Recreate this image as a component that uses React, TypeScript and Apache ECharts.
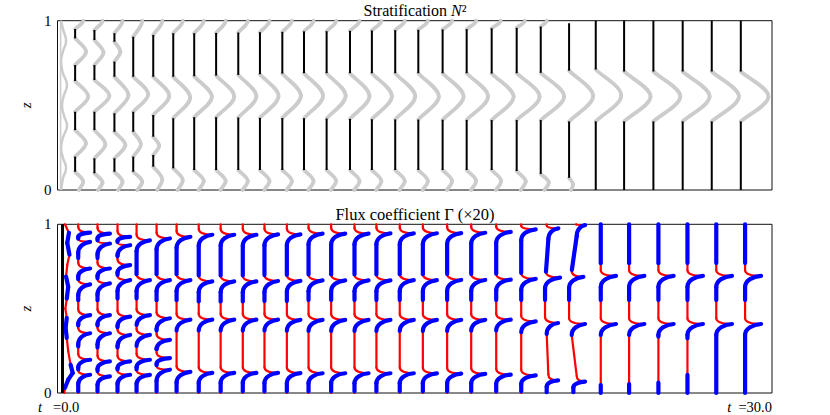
import React, { useEffect, useRef } from 'react';
import * as echarts from 'echarts';

// ---------- data ----------
// x position (time axis, 0..30) of each profile column
const colT = [0.74, 1.55, 2.39, 3.18, 4.02, 4.86, 5.74, 6.66, 7.59, 8.5, 9.44, 10.35, 11.3, 12.28, 13.2, 14.18, 15.15, 16.17, 17.18, 18.23, 19.28, 20.29, 21.48, 22.6, 23.79, 25.02, 26.25, 27.47, 28.69];

// Stratification panel: mixed layers (black), pairs of [zTop, zBottom]
const n2Layers: number[][] = [
  [0.951, 0.896, 0.738, 0.644, 0.462, 0.354, 0.197, 0.108],
  [0.945, 0.886, 0.738, 0.65, 0.462, 0.354, 0.187, 0.099],
  [0.926, 0.876, 0.758, 0.669, 0.453, 0.344, 0.187, 0.108],
  [0.905, 0.669, 0.462, 0.344, 0.197, 0.108],
  [0.916, 0.669, 0.443, 0.315, 0.207, 0.138],
  [0.926, 0.669, 0.424, 0.128],
  [0.926, 0.672, 0.43, 0.118],
  [0.928, 0.676, 0.43, 0.118],
  [0.93, 0.68, 0.428, 0.118],
  [0.932, 0.684, 0.426, 0.118],
  [0.934, 0.688, 0.425, 0.118],
  [0.937, 0.69, 0.424, 0.118],
  [0.938, 0.69, 0.422, 0.118],
  [0.94, 0.69, 0.42, 0.118],
  [0.942, 0.69, 0.418, 0.118],
  [0.944, 0.69, 0.417, 0.118],
  [0.946, 0.69, 0.416, 0.118],
  [0.948, 0.69, 0.415, 0.118],
  [0.95, 0.69, 0.414, 0.118],
  [0.955, 0.688, 0.413, 0.118],
  [0.958, 0.69, 0.413, 0.112],
  [0.965, 0.692, 0.413, 0.095],
  [0.985, 0.705, 0.405, 0.072],
  [1, 0.712, 0.405, 0],
  [1, 0.7, 0.405, 0],
  [1, 0.7, 0.405, 0],
  [1, 0.7, 0.405, 0],
  [1, 0.7, 0.405, 0],
  [1, 0.7, 0.405, 0],
];
// N^2 peak amplitudes (grey): [top boundary, interfaces..., bottom boundary]
const n2Amp: number[][] = [
  [0.34, 0.46, 0.55, 0.46, 0.34],
  [0.34, 0.38, 0.63, 0.46, 0.34],
  [0.34, 0.25, 0.59, 0.46, 0.34],
  [0.38, 0.63, 0.32, 0.38],
  [0.38, 0.67, 0.25, 0.38],
  [0.4, 0.71, 0.4],
  [0.4, 0.74, 0.4],
  [0.4, 0.76, 0.4],
  [0.4, 0.76, 0.4],
  [0.4, 0.78, 0.4],
  [0.4, 0.78, 0.4],
  [0.4, 0.8, 0.4],
  [0.4, 0.8, 0.4],
  [0.4, 0.82, 0.4],
  [0.4, 0.84, 0.4],
  [0.4, 0.84, 0.4],
  [0.4, 0.86, 0.4],
  [0.4, 0.88, 0.4],
  [0.4, 0.9, 0.4],
  [0.38, 0.92, 0.4],
  [0.34, 0.96, 0.38],
  [0.25, 0.98, 0.34],
  [0, 1.01, 0.17],
  [0, 1.07, 0],
  [0, 1.11, 0],
  [0, 1.13, 0],
  [0, 1.13, 0],
  [0, 1.14, 0],
  [0, 1.16, 0],
];
// initial (t = 0) stratification profile
const n2InitZ = [1, 0.95, 0.88, 0.82, 0.76, 0.69, 0.62, 0.56, 0.5, 0.44, 0.38, 0.31, 0.25, 0.19, 0.13, 0.07, 0];
const n2InitT = [0.15, 0.23, 0.36, 0.23, 0.15, 0.23, 0.4, 0.27, 0.19, 0.27, 0.4, 0.23, 0.15, 0.23, 0.36, 0.23, 0.15];
const n2InitLineT = 0.13;

// Flux coefficient panel: spike (tip) heights z, tip offsets, baselines, colour stops
const fluxTipZ: number[][] = [
  [0.951, 0.896, 0.738, 0.644, 0.462, 0.354, 0.197, 0.108],
  [0.945, 0.886, 0.738, 0.65, 0.462, 0.354, 0.187, 0.099],
  [0.926, 0.876, 0.758, 0.669, 0.453, 0.344, 0.187, 0.108],
  [0.905, 0.669, 0.462, 0.344, 0.197, 0.108],
  [0.916, 0.669, 0.443, 0.315, 0.207, 0.138],
  [0.926, 0.669, 0.435, 0.125],
  [0.938, 0.662, 0.435, 0.119],
  [0.938, 0.662, 0.435, 0.119],
  [0.938, 0.662, 0.435, 0.119],
  [0.94, 0.664, 0.435, 0.119],
  [0.94, 0.665, 0.434, 0.118],
  [0.945, 0.668, 0.433, 0.117],
  [0.945, 0.668, 0.433, 0.117],
  [0.945, 0.668, 0.433, 0.117],
  [0.946, 0.668, 0.433, 0.117],
  [0.946, 0.669, 0.433, 0.117],
  [0.947, 0.669, 0.433, 0.116],
  [0.948, 0.67, 0.433, 0.115],
  [0.95, 0.67, 0.434, 0.113],
  [0.955, 0.672, 0.435, 0.109],
  [0.97, 0.676, 0.425, 0.105],
  [0.976, 0.684, 0.415, 0.075],
  [0.995, 0.688, 0.409, 0.067],
  [0.694, 0.409],
  [0.694, 0.409],
  [0.694, 0.409],
  [0.694, 0.409],
  [0.694, 0.409],
  [0.694, 0.409],
];
const fluxTipX: number[][] = [
  [0.63, 0.63, 0.63, 0.63, 0.63, 0.63, 0.63, 0.63],
  [0.65, 0.65, 0.65, 0.65, 0.65, 0.65, 0.65, 0.65],
  [0.66, 0.66, 0.66, 0.66, 0.66, 0.66, 0.66, 0.66],
  [0.7, 0.7, 0.7, 0.7, 0.7, 0.7],
  [0.7, 0.7, 0.7, 0.7, 0.7, 0.7],
  [0.72, 0.72, 0.72, 0.72],
  [0.76, 0.76, 0.76, 0.76],
  [0.76, 0.76, 0.76, 0.76],
  [0.76, 0.76, 0.76, 0.76],
  [0.76, 0.76, 0.76, 0.76],
  [0.76, 0.76, 0.76, 0.76],
  [0.78, 0.78, 0.78, 0.78],
  [0.78, 0.78, 0.78, 0.78],
  [0.78, 0.78, 0.78, 0.78],
  [0.78, 0.78, 0.78, 0.78],
  [0.78, 0.78, 0.78, 0.78],
  [0.78, 0.78, 0.78, 0.78],
  [0.78, 0.78, 0.78, 0.78],
  [0.78, 0.78, 0.78, 0.78],
  [0.8, 0.8, 0.8, 0.8],
  [0.8, 0.8, 0.8, 0.8],
  [0.74, 0.81, 0.73, 0.73],
  [0.67, 0.6, 0.67, 0.67],
  [0.85, 0.85],
  [0.85, 0.85],
  [0.85, 0.85],
  [0.85, 0.85],
  [0.85, 0.85],
  [0.85, 0.85],
];
// baseline offset: one value, or [top, bottom] per gap between spikes
const fluxBase: number[][] = [
  [0.13], [0.13], [0.13], [0.14], [0.14], [0.14],
  [0.19], [0.19], [0.19], [0.19], [0.19], [0.19], [0.19], [0.19], [0.19], [0.19], [0.19], [0.19], [0.19], [0.19], [0.19],
  [0.25, 0.25, 0.32, 0.22, 0.18, 0.18, 0.25, 0.32, 0.25, 0.25],
  [0.3, 0.3, 0.32, 0.11, 0.0, 0.0, 0.11, 0.32, 0.18, 0.18],
  [0.21], [0.21], [0.21], [0.2], [0.19], [0.18],
];
const fluxTopColor = ['r', 'r', 'r', 'r', 'r', 'r', 'r', 'r', 'r', 'r', 'r', 'r', 'r', 'r', 'r', 'r', 'r', 'r', 'r', 'r', 'r', 'r', 'r', 'b', 'b', 'b', 'b', 'b', 'b'];
// z values (top to bottom) where the colour flips red <-> blue
const fluxStops: number[][] = [
  [0.951, 0.915, 0.896, 0.8, 0.738, 0.675, 0.644, 0.55, 0.462, 0.4, 0.354, 0.275, 0.197, 0.14, 0.108, 0.01],
  [0.945, 0.905, 0.886, 0.8, 0.738, 0.68, 0.65, 0.55, 0.462, 0.4, 0.354, 0.27, 0.187, 0.13, 0.099, 0.01],
  [0.926, 0.895, 0.876, 0.81, 0.758, 0.7, 0.669, 0.56, 0.453, 0.39, 0.344, 0.27, 0.187, 0.14, 0.108, 0.01],
  [0.905, 0.7, 0.669, 0.56, 0.462, 0.405, 0.344, 0.287, 0.197, 0.14, 0.108, 0.01],
  [0.916, 0.7, 0.669, 0.55, 0.443, 0.37, 0.315, 0.26, 0.207, 0.165, 0.138, 0.01],
  [0.926, 0.7, 0.669, 0.55, 0.435, 0.385, 0.125, 0.01],
  [0.938, 0.692, 0.662, 0.543, 0.435, 0.385, 0.119, 0.01],
  [0.938, 0.692, 0.662, 0.543, 0.435, 0.385, 0.119, 0.01],
  [0.938, 0.692, 0.662, 0.543, 0.435, 0.385, 0.119, 0.01],
  [0.94, 0.695, 0.664, 0.545, 0.435, 0.387, 0.119, 0.01],
  [0.94, 0.695, 0.665, 0.545, 0.434, 0.387, 0.118, 0.01],
  [0.945, 0.7, 0.668, 0.551, 0.433, 0.393, 0.117, 0.01],
  [0.945, 0.7, 0.668, 0.551, 0.433, 0.393, 0.117, 0.01],
  [0.945, 0.7, 0.668, 0.551, 0.433, 0.393, 0.117, 0.01],
  [0.946, 0.7, 0.668, 0.551, 0.433, 0.393, 0.117, 0.01],
  [0.946, 0.7, 0.669, 0.551, 0.433, 0.393, 0.117, 0.01],
  [0.947, 0.7, 0.669, 0.551, 0.433, 0.393, 0.116, 0.01],
  [0.948, 0.7, 0.67, 0.551, 0.433, 0.393, 0.115, 0.01],
  [0.95, 0.7, 0.67, 0.551, 0.434, 0.392, 0.113, 0.01],
  [0.955, 0.7, 0.672, 0.551, 0.435, 0.39, 0.109, 0.01],
  [0.97, 0.705, 0.676, 0.551, 0.425, 0.38, 0.105, 0.01],
  [0.976, 0.719, 0.684, 0.551, 0.415, 0.37, 0.075, 0.005],
  [0.995, 0.73, 0.688, 0.551, 0.409, 0.364, 0.067, 0.005],
  [0.769, 0.694, 0.551, 0.409, 0.354, 0.047],
  [0.769, 0.694, 0.551, 0.409, 0.344, 0.053],
  [0.769, 0.694, 0.551, 0.409, 0.334, 0.061],
  [0.77, 0.694, 0.551, 0.409, 0.324, 0.107],
  [0.77, 0.694, 0.551, 0.409],
  [0.77, 0.694, 0.551, 0.409],
];
// initial (t = 0) flux profile
const fluxInitLineT = 0.21;
const fluxInitZ = [1, 0.95, 0.89, 0.82, 0.76, 0.69, 0.63, 0.56, 0.5, 0.445, 0.385, 0.326, 0.247, 0.168, 0.119, 0.079, 0.03, 0];
const fluxInitT = [0.31, 0.48, 0.41, 0.5, 0.41, 0.36, 0.45, 0.39, 0.33, 0.39, 0.34, 0.39, 0.45, 0.55, 0.64, 0.45, 0.31, 0.29];
const fluxInitC = ['r', 'b', 'b', 'r', 'r', 'b', 'b', 'r', 'r', 'b', 'b', 'r', 'r', 'b', 'b', 'b', 'r'];

// ---------- styling ----------
const FONT = 'Liberation Serif';
const RED = '#ff0000';
const BLUE = '#0000ff';
const GRAY = '#cccccc';
const BLACK = '#000000';

// kinds: 0 straight, 1 approach to spike, 2 departure from spike, 3 out to peak, 4 back from peak
const CP: Record<number, number[]> = {
  1: [0, 0.6, 0.3, 1],
  2: [0.5, 0.05, 1, 0.4],
  3: [0.3, 0.3, 1, 0.65],
  4: [0, 0.35, 0.7, 0.7],
};

type Piece = number[];

function buildN2() {
  const gray: Piece[] = [];
  const black: Piece[] = [];
  colT.forEach((t, i) => {
    const L = n2Layers[i];
    const A = n2Amp[i];
    const nL = L.length / 2;
    for (let k = 0; k < nL; k++) black.push([t, L[2 * k], t, L[2 * k + 1], 0]);
    if (A[0] > 0 && L[0] < 0.999) gray.push([t, L[0], t + A[0], 1, 3]);
    for (let k = 0; k < nL - 1; k++) {
      const zb = L[2 * k + 1];
      const zt = L[2 * k + 2];
      const pk = (zb + zt) / 2;
      const a = A[k + 1];
      gray.push([t, zb, t + a, pk, 3]);
      gray.push([t + a, pk, t, zt, 4]);
    }
    const zl = L[2 * nL - 1];
    const ab = A[nL];
    if (ab > 0 && zl > 0.001) {
      const pk = zl * 0.45;
      gray.push([t, zl, t + ab, pk, 3]);
      gray.push([t + ab, pk, t + ab * 0.45, 0, 4]);
    }
  });
  return { gray, black };
}

function buildFlux() {
  const red: Piece[] = [];
  const blue: Piece[] = [];
  colT.forEach((t, i) => {
    const stops = fluxStops[i];
    const isBlue = (z: number) => {
      let n = 0;
      for (const s of stops) if (z < s) n++;
      return (fluxTopColor[i] === 'b') !== (n % 2 === 1);
    };
    const push = (p: Piece, z: number) => (isBlue(z) ? blue : red).push(p);
    const straight = (x1: number, z1: number, x2: number, z2: number) => {
      if (z1 - z2 <= 1e-6) return;
      const cuts = [z1, ...stops.filter((s) => s < z1 && s > z2), z2];
      for (let k = 0; k < cuts.length - 1; k++) {
        const za = cuts[k];
        const zb = cuts[k + 1];
        const xa = x1 + ((x2 - x1) * (z1 - za)) / (z1 - z2);
        const xb = x1 + ((x2 - x1) * (z1 - zb)) / (z1 - z2);
        push([xa, za, xb, zb, 0], (za + zb) / 2);
      }
    };
    const tz = fluxTipZ[i];
    const tx = fluxTipX[i];
    const knots = [1, ...tz, 0];
    const nG = knots.length - 1;
    const base = fluxBase[i];
    for (let g = 0; g < nG; g++) {
      const zu = knots[g];
      const zl = knots[g + 1];
      const gap = zu - zl;
      const bT = t + (base.length === 1 ? base[0] : base[2 * g]);
      const bB = t + (base.length === 1 ? base[0] : base[2 * g + 1]);
      const upTip = g > 0;
      const lowTip = g + 1 < nG;
      const rDn = upTip ? Math.min(0.065, gap * 0.5) : 0;
      const rUp = lowTip ? Math.min(0.035, gap * (g === 0 ? 0.7 : 0.3)) : 0;
      if (upTip) push([t + tx[g - 1], zu, bT, zu - rDn, 2], zu - rDn / 2);
      straight(bT, zu - rDn, bB, zl + rUp);
      if (lowTip) push([bB, zl + rUp, t + tx[g], zl, 1], zl + rUp / 2);
    }
  });
  for (let k = 0; k < fluxInitZ.length - 1; k++) {
    const p = [fluxInitT[k], fluxInitZ[k], fluxInitT[k + 1], fluxInitZ[k + 1], 0];
    (fluxInitC[k] === 'b' ? blue : red).push(p);
  }
  return { red, blue };
}

function makeRender(color: string, width: number, cap: string) {
  return (_params: any, api: any) => {
    const a = api.coord([api.value(0), api.value(1)]);
    const b = api.coord([api.value(2), api.value(3)]);
    const k = api.value(4);
    const style = { stroke: color, lineWidth: width, fill: 'none', lineCap: cap, lineJoin: 'round' };
    if (!k) {
      return { type: 'line', shape: { x1: a[0], y1: a[1], x2: b[0], y2: b[1] }, style };
    }
    const c = CP[k];
    const dx = b[0] - a[0];
    const dy = b[1] - a[1];
    return {
      type: 'bezierCurve',
      shape: {
        x1: a[0], y1: a[1], x2: b[0], y2: b[1],
        cpx1: a[0] + c[0] * dx, cpy1: a[1] + c[1] * dy,
        cpx2: a[0] + c[2] * dx, cpy2: a[1] + c[3] * dy,
      },
      style,
    };
  };
}

function customSeries(data: Piece[], grid: number, color: string, width: number, cap: string) {
  return {
    type: 'custom',
    xAxisIndex: grid,
    yAxisIndex: grid,
    dimensions: ['x1', 'z1', 'x2', 'z2', 'k'],
    encode: { x: [0, 2], y: [1, 3] },
    data,
    silent: true,
    renderItem: makeRender(color, width, cap),
  };
}

function buildOption() {
  const { gray, black } = buildN2();
  const { red, blue } = buildFlux();
  const grids = [
    { left: 57.5, top: 20.7, width: 714.5, height: 169.3 },
    { left: 57.5, top: 224.3, width: 714.5, height: 168.7 },
  ].map((g) => ({ ...g, show: true, borderColor: '#111', borderWidth: 1, backgroundColor: 'transparent' }));
  const xAxis = [0, 1].map((i) => ({
    type: 'value', gridIndex: i, min: 0, max: 30,
    axisLine: { show: false }, axisTick: { show: false }, axisLabel: { show: false }, splitLine: { show: false },
  }));
  const yAxis = [0, 1].map((i) => ({
    type: 'value', gridIndex: i, min: 0, max: 1, interval: 1,
    axisLine: { show: false }, axisTick: { show: false }, splitLine: { show: false },
    axisLabel: { show: true, fontFamily: FONT, fontSize: 15, color: '#000', margin: 6, lineHeight: 12 },
    name: 'z', nameLocation: 'middle', nameRotate: 90, nameGap: 22,
    nameTextStyle: { fontFamily: FONT, fontStyle: 'italic', fontSize: 15, color: '#000' },
  }));
  const ts = (size: number, lh: number) => ({
    fontFamily: FONT, fontSize: size, fontWeight: 'normal', color: '#000', lineHeight: lh,
    rich: { i: { fontFamily: FONT, fontStyle: 'italic', fontSize: size, color: '#000', lineHeight: lh } },
  });
  return {
    animation: false,
    backgroundColor: '#fff',
    grid: grids,
    xAxis,
    yAxis,
    title: [
      { text: 'Stratification {i|N}²', left: 'center', top: 2, padding: 0, textStyle: ts(16, 16) },
      { text: 'Flux coefficient Γ (×20)', left: 'center', top: 206, padding: 0, textStyle: ts(16.5, 16.5) },
      { text: '{i|t}', left: 38, top: 399.5, padding: 0, textStyle: ts(14.5, 14) },
      { text: '=0.0', left: 53, top: 399.5, padding: 0, textStyle: ts(14.5, 14) },
      { text: '{i|t}  =30.0', right: 58, top: 399.5, padding: 0, textStyle: ts(14.5, 14) },
    ],
    series: [
      {
        type: 'line', xAxisIndex: 0, yAxisIndex: 0, silent: true, showSymbol: false,
        data: [[n2InitLineT, 0], [n2InitLineT, 1]],
        lineStyle: { color: GRAY, width: 1.5 },
      },
      {
        type: 'line', xAxisIndex: 0, yAxisIndex: 0, silent: true, showSymbol: false, smooth: 0.5,
        data: n2InitZ.map((z, k) => [n2InitT[k], z]),
        lineStyle: { color: GRAY, width: 2.5 },
      },
      customSeries(gray, 0, GRAY, 3.8, 'round'),
      customSeries(black, 0, BLACK, 2, 'butt'),
      {
        type: 'line', xAxisIndex: 1, yAxisIndex: 1, silent: true, showSymbol: false,
        data: [[fluxInitLineT, 0], [fluxInitLineT, 1]],
        lineStyle: { color: BLACK, width: 3 },
      },
      customSeries(red, 1, RED, 2.2, 'round'),
      customSeries(blue, 1, BLUE, 4.2, 'round'),
    ],
  };
}

export default function App() {
  const ref = useRef<HTMLDivElement>(null);
  useEffect(() => {
    if (!ref.current) return;
    const chart = echarts.init(ref.current, null, { renderer: 'svg' });
    chart.setOption(buildOption() as any);
    return () => chart.dispose();
  }, []);
  return (
    <div
      ref={ref}
      style={{ position: 'fixed', left: 0, top: 0, width: 830, height: 415, background: '#fff' }}
    />
  );
}
